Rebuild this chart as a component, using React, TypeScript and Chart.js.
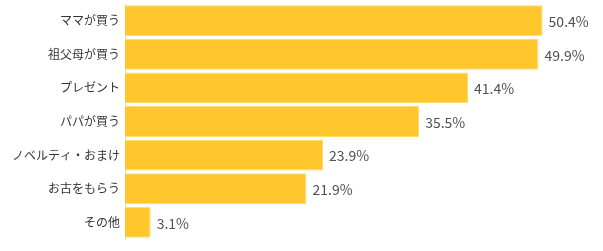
import React, { useEffect, useRef } from "react";
import { Chart, registerables } from "chart.js";

Chart.register(...registerables);

const categories = ["ママが買う", "祖父母が買う", "プレゼント", "パパが買う", "ノベルティ・おまけ", "お古をもらう", "その他"];
const values = [50.4, 49.9, 41.4, 35.5, 23.9, 21.9, 3.1];

const valueLabels = {
  id: "valueLabels",
  afterDatasetsDraw(chart: any) {
    const ctx = chart.ctx;
    const meta = chart.getDatasetMeta(0);
    ctx.save();
    ctx.font = '14px "Noto Sans CJK JP", "Noto Sans", sans-serif';
    ctx.fillStyle = "#505050";
    ctx.textAlign = "left";
    ctx.textBaseline = "middle";
    meta.data.forEach((el: any, i: number) => {
      ctx.fillText(values[i].toFixed(1) + "%", el.x + 6, el.y + 1);
    });
    ctx.restore();
  },
};

export default function App() {
  const ref = useRef<HTMLCanvasElement>(null);
  useEffect(() => {
    document.body.style.margin = "0";
    const chart = new Chart(ref.current!, {
      type: "bar",
      data: {
        labels: categories,
        datasets: [
          {
            data: values,
            backgroundColor: "#FFC72C",
            borderColor: "#FFDC6A",
            borderWidth: 1,
            barPercentage: 0.92,
            categoryPercentage: 1,
          },
        ],
      },
      options: {
        indexAxis: "y",
        animation: false,
        responsive: false,
        maintainAspectRatio: false,
        layout: { padding: { top: 4, bottom: 12, right: 14, left: 0 } },
        plugins: { legend: { display: false }, tooltip: { enabled: false } },
        scales: {
          x: { display: false, min: 0, max: 56 },
          y: {
            afterFit: (s: any) => {
              s.width = 125;
              s.paddingTop = 0;
              s.paddingBottom = 0;
            },
            grid: { display: false, drawTicks: false },
            border: { display: true, color: "#ccd6eb", width: 1 },
            ticks: {
              padding: 5,
              color: "#333333",
              font: { size: 12, family: '"Noto Sans CJK JP", sans-serif' },
            },
          },
        },
      },
      plugins: [valueLabels],
    });
    return () => chart.destroy();
  }, []);
  return (
    <div style={{ width: 603, height: 251 }}>
      <canvas ref={ref} width={603} height={251} style={{ display: "block" }} />
    </div>
  );
}
